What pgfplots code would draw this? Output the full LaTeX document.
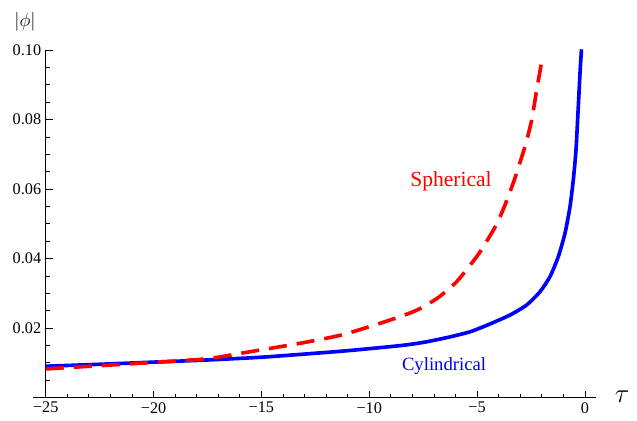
\documentclass[border=0pt]{standalone}
\usepackage{fontspec}
\setmainfont{Liberation Serif}
\usepackage{pgfplots}
\pgfplotsset{compat=1.18}
\begin{document}
\begin{tikzpicture}
\useasboundingbox (-35.2pt,-17.9pt) rectangle (455.3pt,306.2pt);
\begin{axis}[
  scale only axis, width=423.5pt, height=267.7pt,
  at={(0,0)}, anchor=south west,
  xmin=-25, xmax=0.5, ymin=0, ymax=0.1,
  axis lines=left,
  axis line style={-, line width=0.6pt},
  x axis line style={shorten <=-9.8pt},
  tick align=inside,
  tick style={line width=0.6pt, black},
  major tick length=5.5pt, minor tick length=3pt,
  xtick={-25,-20,-15,-10,-5,0},
  xticklabels={−25,−20,−15,−10,−5,0},
  minor xtick={-24,-23,-22,-21,-19,-18,-17,-16,-14,-13,-12,-11,-9,-8,-7,-6,-4,-3,-2,-1},
  ytick={0.02,0.04,0.06,0.08,0.1},
  yticklabels={0.02,0.04,0.06,0.08,0.10},
  minor ytick={0.005,0.01,0.015,0.025,0.03,0.035,0.045,0.05,0.055,0.065,0.07,0.075,0.085,0.09,0.095},
  ticklabel style={font=\fontsize{12.5}{14}\selectfont},
  clip=false,
]
\addplot[blue, line width=2.8pt, smooth, tension=0.4] coordinates {
(-25,0.00904) (-22.5,0.0096) (-20,0.01022) (-17.5,0.01084) (-15,0.01163)
(-12.5,0.01277) (-10.88,0.01358) (-8.56,0.01497) (-7.4,0.0160) (-6.24,0.0175) (-5.3,0.0190)
(-4.40,0.0212) (-3.47,0.02378) (-2.70,0.02666) (-2.08,0.03049) (-1.62,0.0348)
(-1.235,0.04055) (-0.924,0.04728) (-0.692,0.05493) (-0.539,0.06261) (-0.414,0.07124)
(-0.307,0.08369) (-0.228,0.0933) (-0.16,0.1002)
};
\addplot[red, line width=2.8pt, smooth, tension=0.4, dash pattern=on 13.9pt off 7.7pt] coordinates {
(-25,0.00826) (-22.5,0.0092) (-19.85,0.01019) (-17.5,0.0112) (-15.5,0.01324)
(-13.2,0.01565) (-11.27,0.01805) (-9.34,0.0217) (-8.26,0.0240) (-7.65,0.0256)
(-6.80,0.0288) (-5.946,0.03336) (-5.019,0.04055) (-4.633,0.0442) (-4.091,0.0499)
(-3.706,0.05542) (-3.322,0.06175) (-3.011,0.06764) (-2.733,0.0732) (-2.469,0.07987)
(-2.237,0.0885) (-2.005,0.09663)
};
\node[red, font=\fontsize{16.6}{19}\selectfont] at (axis cs:-6.21,0.0621) {Spherical};
\node[blue, font=\fontsize{14.4}{17}\selectfont] at (axis cs:-6.53,0.00912) {Cylindrical};
\end{axis}
\node[font=\fontsize{15}{17}\selectfont] at (-15.9pt,289.3pt) {$|\phi|$};
\node[font=\fontsize{20}{22}\selectfont] at (443.8pt,0.5pt) {$\tau$};
\end{tikzpicture}
\end{document}
